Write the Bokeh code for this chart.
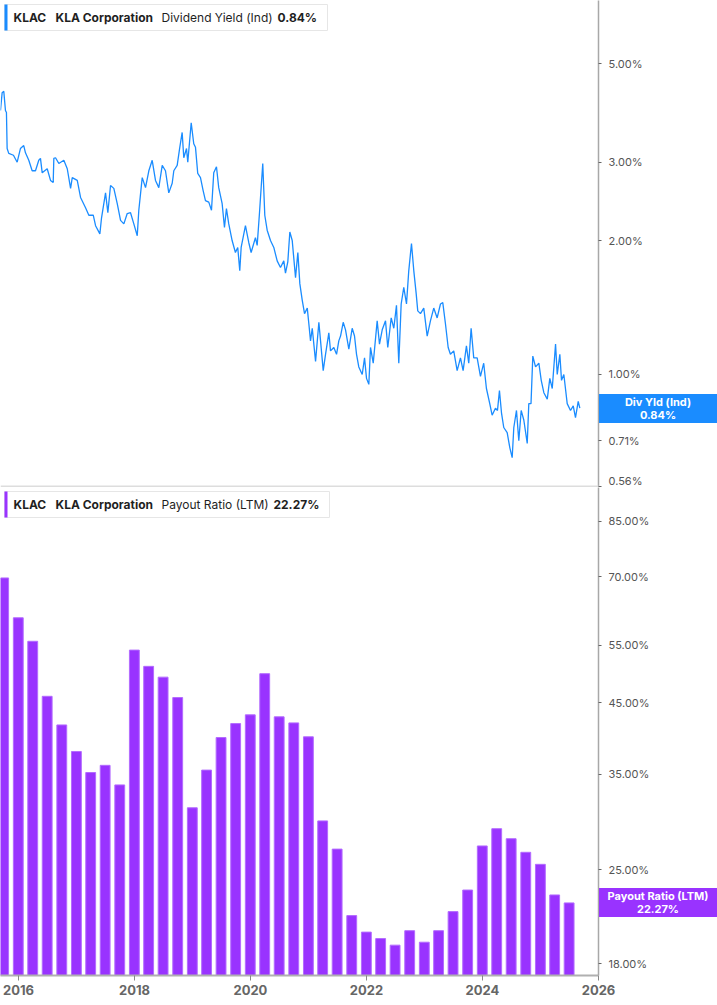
from datetime import datetime
from bokeh.plotting import figure
from bokeh.layouts import column
from bokeh.models import (Range1d, FixedTicker, PrintfTickFormatter, DatetimeTickFormatter,
                          BoxAnnotation, Label, Span, Div)
from bokeh.embed import file_html
from bokeh.resources import INLINE

# ---------------- data ----------------
ticker_sym = "KLAC"
company = "KLA Corporation"
yield_name = "Dividend Yield (Ind)"
yield_short = "Div Yld (Ind)"
yield_last = "0.84%"
payout_name = "Payout Ratio (LTM)"
payout_last = "22.27%"

# dividend yield (%), dates as decimal years
yield_dates = [
    2015.690, 2015.719, 2015.747, 2015.776, 2015.793, 2015.805, 2015.833, 2015.914, 2015.978, 2016.034,
    2016.091, 2016.121, 2016.178, 2016.236, 2016.293, 2016.350, 2016.379, 2016.409, 2016.495, 2016.552,
    2016.598, 2016.609, 2016.638, 2016.695, 2016.781, 2016.840, 2016.897, 2016.926, 2017.012, 2017.069,
    2017.155, 2017.212, 2017.288, 2017.328, 2017.402, 2017.431, 2017.500, 2017.540, 2017.586, 2017.643,
    2017.702, 2017.759, 2017.816, 2017.874, 2017.931, 2017.988, 2018.047, 2018.074, 2018.133, 2018.190,
    2018.247, 2018.305, 2018.362, 2018.419, 2018.478, 2018.534, 2018.591, 2018.650, 2018.678, 2018.736,
    2018.781, 2018.822, 2018.850, 2018.897, 2018.919, 2018.978, 2019.022, 2019.052, 2019.091, 2019.138,
    2019.184, 2019.224, 2019.281, 2019.328, 2019.367, 2019.414, 2019.453, 2019.512, 2019.552, 2019.586,
    2019.626, 2019.684, 2019.741, 2019.781, 2019.816, 2019.840, 2019.914, 2019.971, 2020.012, 2020.086,
    2020.116, 2020.155, 2020.212, 2020.247, 2020.288, 2020.345, 2020.402, 2020.460, 2020.517, 2020.574,
    2020.603, 2020.643, 2020.678, 2020.719, 2020.776, 2020.816, 2020.850, 2020.891, 2020.931, 2020.978,
    2021.005, 2021.034, 2021.064, 2021.091, 2021.121, 2021.178, 2021.207, 2021.253, 2021.293, 2021.350,
    2021.379, 2021.436, 2021.483, 2021.522, 2021.552, 2021.598, 2021.638, 2021.695, 2021.753, 2021.793,
    2021.828, 2021.867, 2021.926, 2021.966, 2022.000, 2022.040, 2022.069, 2022.116, 2022.184, 2022.224,
    2022.271, 2022.328, 2022.367, 2022.426, 2022.471, 2022.517, 2022.557, 2022.598, 2022.643, 2022.690,
    2022.729, 2022.776, 2022.816, 2022.857, 2022.884, 2022.931, 2022.988, 2023.047, 2023.103, 2023.160,
    2023.219, 2023.276, 2023.316, 2023.362, 2023.409, 2023.448, 2023.505, 2023.564, 2023.621, 2023.667,
    2023.724, 2023.764, 2023.805, 2023.850, 2023.909, 2023.966, 2024.022, 2024.069, 2024.126, 2024.167,
    2024.224, 2024.259, 2024.293, 2024.328, 2024.367, 2024.426, 2024.471, 2024.512, 2024.540, 2024.586,
    2024.626, 2024.667, 2024.712, 2024.771, 2024.798, 2024.836, 2024.867, 2024.914, 2024.971, 2025.012,
    2025.057, 2025.116, 2025.160, 2025.202, 2025.259, 2025.288, 2025.333, 2025.362, 2025.402, 2025.460,
    2025.517, 2025.564, 2025.603, 2025.650, 2025.678,
]
yield_vals = [
    3.92, 4.30, 4.33, 3.92, 3.88, 3.22, 3.14, 3.11, 3.00, 3.22,
    3.27, 3.15, 3.03, 2.87, 2.87, 3.03, 3.06, 2.84, 2.90, 2.73,
    2.70, 3.06, 3.07, 2.98, 3.03, 2.90, 2.62, 2.77, 2.73, 2.50,
    2.37, 2.28, 2.28, 2.16, 2.07, 2.25, 2.56, 2.31, 2.66, 2.62,
    2.42, 2.22, 2.18, 2.30, 2.31, 2.18, 2.05, 2.34, 2.77, 2.63,
    2.87, 3.03, 2.73, 2.63, 2.95, 2.87, 2.56, 2.69, 2.87, 2.95,
    3.24, 3.50, 3.07, 3.22, 3.00, 3.68, 3.30, 3.24, 2.83, 2.77,
    2.59, 2.46, 2.44, 2.34, 2.84, 2.93, 2.63, 2.42, 2.14, 2.36,
    2.18, 2.00, 1.88, 1.93, 1.71, 1.93, 2.16, 1.98, 1.88, 2.03,
    1.95, 2.30, 2.98, 2.28, 2.11, 2.00, 1.93, 1.80, 1.74, 1.80,
    1.69, 1.79, 2.09, 2.00, 1.65, 1.88, 1.60, 1.47, 1.37, 1.41,
    1.30, 1.19, 1.27, 1.17, 1.07, 1.31, 1.19, 1.02, 1.11, 1.24,
    1.13, 1.15, 1.11, 1.19, 1.22, 1.31, 1.26, 1.14, 1.27, 1.22,
    1.11, 1.04, 1.00, 1.09, 0.98, 0.95, 1.15, 1.06, 1.32, 1.17,
    1.26, 1.32, 1.15, 1.34, 1.27, 1.43, 1.06, 1.44, 1.57, 1.44,
    1.71, 1.97, 1.71, 1.52, 1.39, 1.37, 1.41, 1.22, 1.32, 1.41,
    1.34, 1.44, 1.45, 1.30, 1.15, 1.11, 1.13, 1.02, 1.09, 1.02,
    1.16, 1.06, 1.27, 1.09, 1.09, 0.99, 1.06, 0.93, 0.86, 0.81,
    0.84, 0.83, 0.92, 0.82, 0.76, 0.74, 0.685, 0.65, 0.76, 0.83,
    0.71, 0.83, 0.79, 0.70, 0.86, 0.86, 1.10, 1.04, 1.06, 0.97,
    0.91, 0.88, 0.98, 0.93, 1.17, 1.00, 1.11, 0.97, 1.00, 0.86,
    0.83, 0.85, 0.80, 0.87, 0.84,
]

# payout ratio (%), quarterly
quarters = [
    "2015-09-30", "2015-12-31", "2016-03-31", "2016-06-30", "2016-09-30", "2016-12-31",
    "2017-03-31", "2017-06-30", "2017-09-30", "2017-12-31", "2018-03-31", "2018-06-30",
    "2018-09-30", "2018-12-31", "2019-03-31", "2019-06-30", "2019-09-30", "2019-12-31",
    "2020-03-31", "2020-06-30", "2020-09-30", "2020-12-31", "2021-03-31", "2021-06-30",
    "2021-09-30", "2021-12-31", "2022-03-31", "2022-06-30", "2022-09-30", "2022-12-31",
    "2023-03-31", "2023-06-30", "2023-09-30", "2023-12-31", "2024-03-31", "2024-06-30",
    "2024-09-30", "2024-12-31", "2025-03-31", "2025-06-30",
]
payout_vals = [
    69.7, 60.6, 55.8, 46.0, 41.6, 37.9, 35.2, 36.1, 33.7, 54.1,
    51.1, 49.2, 45.8, 31.1, 35.5, 39.8, 41.8, 43.1, 49.8, 42.8,
    41.9, 39.9, 29.7, 26.9, 21.3, 20.1, 19.65, 19.2, 20.2, 19.4,
    20.2, 21.6, 23.3, 27.2, 28.9, 27.9, 26.6, 25.5, 22.9, 22.27,
]

yield_ticks = [5.0, 3.0, 2.0, 1.0, 0.71, 0.56]
payout_ticks = [85.0, 70.0, 55.0, 45.0, 35.0, 25.0, 18.0]
year_ticks = [2016, 2018, 2020, 2022, 2024, 2026]

# ---------------- helpers ----------------
def dec2dt(y):
    yr = int(y)
    a, b = datetime(yr, 1, 1), datetime(yr + 1, 1, 1)
    return a + (b - a) * (y - yr)

def ms(dt):
    return (dt - datetime(1970, 1, 1)).total_seconds() * 1000.0

W = 717
RIGHT = 119
TOP_H = 487
BOT_FRAME = 488
BOT_AX = 30
BLUE = "#1a8cff"
PURPLE = "#9933ff"
FONT = "Inter"

x_range = Range1d(datetime(2015, 9, 10), datetime(2026, 1, 1))

def base_fig(height, yr, bottom_border):
    p = figure(width=W, height=height, x_axis_type="datetime", y_axis_type="log",
               x_range=x_range, y_range=yr, y_axis_location="right",
               toolbar_location=None, output_backend="svg",
               min_border_left=0, min_border_top=0, min_border_right=RIGHT,
               min_border_bottom=bottom_border)
    p.outline_line_color = None
    p.xgrid.visible = False
    p.ygrid.visible = False
    p.background_fill_color = "white"
    p.border_fill_color = "white"
    return p

def style_y(p, ticks):
    ax = p.yaxis[0]
    ax.ticker = FixedTicker(ticks=ticks)
    ax.formatter = PrintfTickFormatter(format="%.2f%%")
    ax.axis_line_color = "#a8a8a8"
    ax.axis_line_width = 1.5
    ax.major_tick_out = 3
    ax.major_tick_in = 0
    ax.major_tick_line_color = "#666666"
    ax.minor_tick_line_color = None
    ax.major_label_standoff = 7
    ax.major_label_text_font = FONT
    ax.major_label_text_font_size = "11px"
    ax.major_label_text_color = "#555555"

def header(p, frame_h, color, name, last, last_x, right):
    top, bot = frame_h - 4, frame_h - 30
    p.add_layout(BoxAnnotation(left=4, right=right, top=top, bottom=bot,
                               left_units="screen", right_units="screen",
                               top_units="screen", bottom_units="screen",
                               fill_color="white", fill_alpha=1.0,
                               line_color="#e6e6e6", line_alpha=1.0, line_width=1))
    p.add_layout(BoxAnnotation(left=4, right=7, top=top, bottom=bot,
                               left_units="screen", right_units="screen",
                               top_units="screen", bottom_units="screen",
                               fill_color=color, fill_alpha=1.0, line_color=None))
    cy = frame_h - 17
    for x, txt, style in [(13, ticker_sym, "bold"), (55, company, "bold"),
                          (161, name, "normal"), (last_x, last, "bold")]:
        p.add_layout(Label(x=x, y=cy, x_units="screen", y_units="screen", text=txt,
                           text_font=FONT, text_font_size="12px", text_font_style=style,
                           text_color="#1f1f1f", text_baseline="middle"))

def side_tag(top_px, color, line1, line2):
    return Div(text=f"{line1}<br>{line2}", width=118, height=29,
               styles={"position": "absolute", "left": "599px", "top": f"{top_px}px",
                       "background-color": color, "color": "white",
                       "font-family": "Inter", "font-weight": "bold",
                       "font-size": "11px", "line-height": "13px",
                       "text-align": "center", "padding-top": "2px",
                       "box-sizing": "border-box", "margin": "0px"})

# ---------------- top: dividend yield ----------------
p1 = base_fig(TOP_H, Range1d(0.5571, 6.928), 0)
p1.xaxis.visible = False
p1.line([dec2dt(d) for d in yield_dates], yield_vals, line_color=BLUE, line_width=1.3)
style_y(p1, yield_ticks)
p1.add_layout(Span(location=0.5600, dimension="width", line_color="#dddddd", line_width=2))
header(p1, TOP_H, BLUE, yield_name, yield_last, 277, 327)

# ---------------- bottom: payout ratio ----------------
p2 = base_fig(BOT_FRAME + BOT_AX, Range1d(17.26, 95.75), BOT_AX)
qd = [datetime.strptime(q, "%Y-%m-%d") for q in quarters]
p2.vbar(x=qd, top=payout_vals, bottom=1.0, width=62 * 86400000.0,
        fill_color=PURPLE, line_color="#b36bff", line_width=1)
style_y(p2, payout_ticks)
xa = p2.xaxis[0]
xa.ticker = FixedTicker(ticks=[ms(datetime(y, 1, 1)) for y in year_ticks])
xa.formatter = DatetimeTickFormatter(years="%Y", months="%Y", days="%Y", hours="%Y")
xa.axis_line_color = "#b0b0b0"
xa.axis_line_width = 2
xa.major_tick_out = 5
xa.major_tick_in = 0
xa.major_tick_line_color = "#888888"
xa.minor_tick_line_color = None
xa.major_label_standoff = 4
xa.major_label_text_font = FONT
xa.major_label_text_font_size = "13px"
xa.major_label_text_font_style = "bold"
xa.major_label_text_color = "#666666"
header(p2, BOT_FRAME, PURPLE, payout_name, payout_last, 273, 329)

tag1 = side_tag(394, BLUE, yield_short, yield_last)
tag2 = side_tag(888, PURPLE, payout_name, payout_last)

layout = column(p1, p2, tag1, tag2,
                styles={"position": "absolute", "left": "0px", "top": "0px"})

open("out.html", "w").write(file_html(layout, INLINE))
